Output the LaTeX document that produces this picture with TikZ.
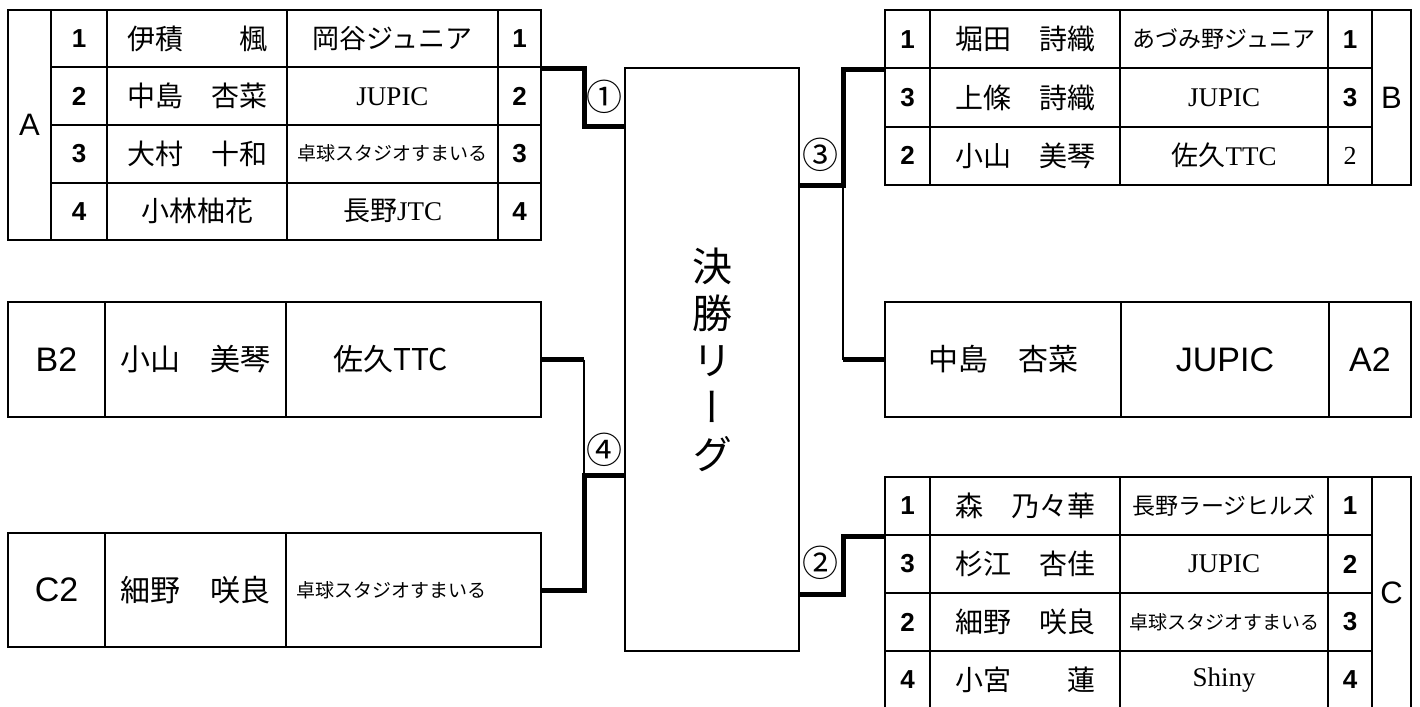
\documentclass[tikz,border=0pt]{standalone}
\usepackage{fontspec}
\setmainfont{Liberation Serif}
\setsansfont{Liberation Sans}
\newfontfamily\jp{Noto Sans CJK JP}
\newfontfamily\jpv[RawFeature=+vert]{Noto Sans CJK JP}
\newcommand\jpsmall[1]{{\jp\fontsize{19}{19}\selectfont #1}}
\newcommand\jpmid[1]{{\jp\fontsize{23}{23}\selectfont #1}}

\begin{document}
\begin{tikzpicture}[x=1pt,y=-1pt,
    cell/.style={draw,line width=2pt,inner sep=0pt,minimum height=57.5pt,font=\fontsize{27}{27}\selectfont},
    player/.style={cell,font=\jp\fontsize{28}{28}\selectfont},
    num/.style={cell,font=\sffamily\bfseries\fontsize{26}{26}\selectfont},
    grp/.style={cell,font=\sffamily\fontsize{31}{31}\selectfont},
    seed/.style={cell,font=\sffamily\fontsize{34}{34}\selectfont},
    matchno/.style={font=\jp\fontsize{36}{36}\selectfont},
    win/.style={line width=5pt},
    lose/.style={line width=2pt}]
\useasboundingbox (0,0) rectangle (1420,706);
%vertical lines of the bracket
\coordinate (lt) at (584,0);
\coordinate (rt) at (843,0);
\coordinate (k4) at (584,475);
%final league
\node[draw,line width=2pt,minimum width=174pt,minimum height=583pt,align=center,
      font=\jpv\fontsize{40}{47}\selectfont] (final) at (712,359.5) {決\\勝\\リ\\ー\\グ};
%group A
\node[grp,minimum width=43pt,minimum height=230pt] (A) at (29.5,125) {A};
\foreach \p/\nm/\cl/\q [count=\i] in {1/伊積　　楓/{\jp 岡谷ジュニア}/1,
        2/中島　杏菜/JUPIC/2,
        3/大村　十和/\jpsmall{卓球スタジオすまいる}/3,
        4/小林柚花/{\jp 長野}JTC/4}{
    \node[num,minimum width=56pt] (a\i-p) at (79,{10+57.5*(\i-0.5)}) {\p};
    \node[player,minimum width=180pt] (a\i-n) at (197,{10+57.5*(\i-0.5)}) {\nm};
    \node[cell,minimum width=211pt] (a\i-c) at (392.5,{10+57.5*(\i-0.5)}) {\cl};
    \node[num,minimum width=43pt] (a\i-q) at (519.5,{10+57.5*(\i-0.5)}) {\q};
}
%group B
\node[grp,minimum width=39pt,minimum height=175pt] (B) at (1391.5,97.5) {B};
\foreach \p/\nm/\cl/\q [count=\i] in {1/堀田　詩織/\jpmid{あづみ野ジュニア}/1,
        3/上條　詩織/JUPIC/3,
        2/小山　美琴/{\jp 佐久}TTC/{\rmfamily\mdseries 2}}{
    \node[num,minimum width=45pt,minimum height=58.3pt] (b\i-p) at (907.5,{10+58.3*(\i-0.5)}) {\p};
    \node[player,minimum width=190pt,minimum height=58.3pt] (b\i-n) at (1025,{10+58.3*(\i-0.5)}) {\nm};
    \node[cell,minimum width=208pt,minimum height=58.3pt] (b\i-c) at (1224,{10+58.3*(\i-0.5)}) {\cl};
    \node[num,minimum width=44pt,minimum height=58.3pt] (b\i-q) at (1350,{10+58.3*(\i-0.5)}) {\q};
}
%group C (runs off the bottom edge)
\node[grp,minimum width=39pt,minimum height=232pt] (C) at (1391.5,593) {C};
\foreach \p/\nm/\cl/\q [count=\i] in {1/森　乃々華/\jpmid{長野ラージヒルズ}/1,
        3/杉江　杏佳/JUPIC/2,
        2/細野　咲良/\jpsmall{卓球スタジオすまいる}/3,
        4/小宮　　蓮/Shiny/4}{
    \node[num,minimum width=45pt,minimum height=58pt] (c\i-p) at (907.5,{477+58*(\i-0.5)}) {\p};
    \node[player,minimum width=190pt,minimum height=58pt] (c\i-n) at (1025,{477+58*(\i-0.5)}) {\nm};
    \node[cell,minimum width=208pt,minimum height=58pt] (c\i-c) at (1224,{477+58*(\i-0.5)}) {\cl};
    \node[num,minimum width=44pt,minimum height=58pt] (c\i-q) at (1350,{477+58*(\i-0.5)}) {\q};
}
%second places
\node[seed,minimum width=97pt,minimum height=115pt] (b2-l) at (56.5,359.5) {B2};
\node[player,minimum width=181pt,minimum height=115pt,font=\jp\fontsize{30}{30}\selectfont] (b2-n) at (195.5,359.5) {小山　美琴};
\node[cell,minimum width=255pt,minimum height=115pt,text width=160pt,align=left,
      font=\jp\fontsize{30}{30}\selectfont] (b2-c) at (413.5,359.5) {佐久TTC};
\node[seed,minimum width=97pt,minimum height=114pt] (c2-l) at (56.5,590) {C2};
\node[player,minimum width=181pt,minimum height=114pt,font=\jp\fontsize{30}{30}\selectfont] (c2-n) at (195.5,590) {細野　咲良};
\node[cell,minimum width=255pt,minimum height=114pt,text width=235pt,align=left,
      font=\jp\fontsize{19}{19}\selectfont] (c2-c) at (413.5,590) {卓球スタジオすまいる};
\node[player,minimum width=236pt,minimum height=115pt,font=\jp\fontsize{30}{30}\selectfont] (a2-n) at (1003,359.5) {中島　杏菜};
\node[cell,minimum width=208pt,minimum height=115pt,font=\sffamily\fontsize{34}{34}\selectfont] (a2-c) at (1225,359.5) {JUPIC};
\node[seed,minimum width=82pt,minimum height=115pt] (a2-l) at (1370,359.5) {A2};
%match numbers
\node[matchno] (m1) at (604,97) {①};
\node[matchno] (m2) at (820,563) {②};
\node[matchno] (m3) at (820,155) {③};
\node[matchno] (m4) at (604,450) {④};
%bracket
\draw[win] (a1-q.south east) -- (a1-q.south east -| lt) |- (final.west |- a2-q.south);
\draw[win] (b1-p.south west) -- (b1-p.south west -| rt) |- (final.east |- b3-p.south);
\draw[lose] (rt |- b3-p.south) -- (rt |- a2-n.west);
\draw[win] (rt |- a2-n.west) -- (a2-n.west);
\draw[win] (final.east |- c2-p.south) -| (rt |- c1-p.south) -- (c1-p.south west);
\draw[win] (b2-c.east) -- (b2-c.east -| lt);
\draw[lose] (b2-c.east -| lt) -- (k4);
\draw[win] (final.west |- k4) -- (k4) |- (c2-c.east);
\end{tikzpicture}
\end{document}
